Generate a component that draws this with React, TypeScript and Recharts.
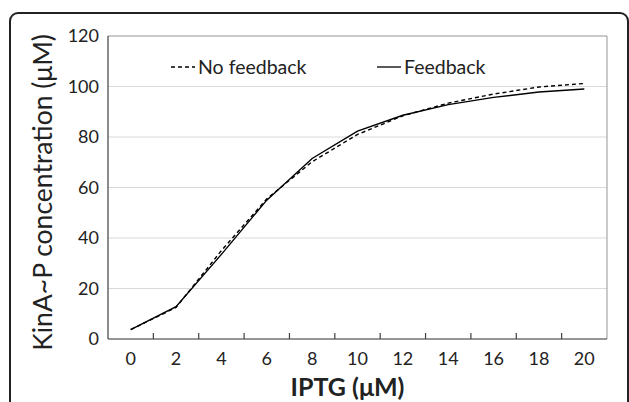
import {
  CartesianGrid,
  Label,
  Legend,
  Line,
  LineChart,
  ReferenceLine,
  XAxis,
  YAxis,
} from "recharts";

const iptg = [0, 2, 4, 6, 8, 10, 12, 14, 16, 18, 20];
const noFeedback = [3.7, 12.5, 35, 55.5, 70.2, 81, 88.4, 93.4, 97, 99.8, 101.2];
const feedback = [3.7, 12.8, 33.5, 55, 71.5, 82.3, 88.6, 92.8, 95.7, 97.8, 99];
const yTicks = [0, 20, 40, 60, 80, 100, 120];
const xDomain = [-1, 21];

const data = iptg.map((x, i) => ({ x, noFeedback: noFeedback[i], feedback: feedback[i] }));

const FONT = "Lato, 'Open Sans', sans-serif";
const tickStyle = { fill: "#222", fontSize: 18, fontFamily: FONT };
const X_TICK_GAP = 13;

function LegendContent() {
  const item = (dash: string | undefined, text: string, width: number) => (
    <div style={{ display: "flex", alignItems: "center", width }}>
      <svg width={26} height={10}>
        <line x1={1} y1={5} x2={25} y2={5} stroke="#000" strokeWidth={1.3} strokeDasharray={dash} />
      </svg>
      <span style={{ marginLeft: 2 }}>{text}</span>
    </div>
  );
  return (
    <div style={{ display: "flex", fontFamily: FONT, fontSize: 19.5, color: "#222" }}>
      {item("4 3", "No feedback", 206)}
      {item(undefined, "Feedback", 120)}
    </div>
  );
}

function YTitle({ viewBox }: any) {
  const cx = viewBox.x - 6;
  const cy = viewBox.y + viewBox.height / 2 + 5;
  return (
    <text
      x={cx}
      y={cy}
      transform={`rotate(-90 ${cx} ${cy})`}
      textAnchor="middle"
      dominantBaseline="central"
      fontFamily={FONT}
      fontSize={26.5}
      fill="#222"
    >
      KinA~P concentration (μM)
    </text>
  );
}

// category label plus an inside tick mark on the boundary to its right
function XTick(props: any) {
  const { x, y, payload, index, width } = props;
  const half = width / (xDomain[1] - xDomain[0]);
  const axisY = y - X_TICK_GAP;
  return (
    <g>
      {index < iptg.length - 1 && (
        <line x1={x + half} x2={x + half} y1={axisY} y2={axisY - 6} stroke="#404040" strokeWidth={1.2} />
      )}
      <text x={x} y={y} dy="0.71em" textAnchor="middle" {...tickStyle}>
        {payload.value}
      </text>
    </g>
  );
}

export default function App() {
  return (
    <div style={{ position: "absolute", left: 0, top: 0, width: 629, height: 402, overflow: "hidden", background: "#fff" }}>
      <div
        style={{
          position: "absolute",
          left: 9,
          top: 12,
          width: 616,
          height: 420,
          border: "2px solid #222",
          borderRadius: 9,
        }}
      />
      <div style={{ position: "absolute", left: 0, top: 0 }}>
        <LineChart width={629} height={402} data={data} margin={{ top: 36, right: 22, bottom: 33, left: 48 }}>
          <CartesianGrid vertical={false} stroke="#d9d9d9" strokeWidth={1.2} />
          <XAxis
            dataKey="x"
            type="number"
            domain={xDomain}
            ticks={iptg}
            height={30}
            tickLine={false}
            tickSize={0}
            tickMargin={X_TICK_GAP}
            axisLine={{ stroke: "#404040", strokeWidth: 1.2 }}
            tick={XTick}
          >
            <Label
              value="IPTG (μM)"
              position="bottom"
              offset={9}
              dx={-10}
              style={{ fontFamily: FONT, fontSize: 25, fontWeight: 700, fill: "#222" }}
            />
          </XAxis>
          <YAxis
            domain={[0, 120]}
            ticks={yTicks}
            width={60}
            tickLine={false}
            tickMargin={3}
            axisLine={{ stroke: "#404040", strokeWidth: 1.2 }}
            tick={tickStyle}
          >
            <Label content={YTitle} />
          </YAxis>
          <ReferenceLine y={120} stroke="#a6a6a6" strokeWidth={1.2} />
          <ReferenceLine x={21} stroke="#a6a6a6" strokeWidth={1.2} />
          <Legend
            content={LegendContent}
            layout="horizontal"
            verticalAlign="middle"
            align="center"
            wrapperStyle={{ position: "absolute", left: 170, top: 55, width: 340 }}
          />
          <Line
            dataKey="noFeedback"
            stroke="#000"
            strokeWidth={1.4}
            strokeDasharray="4 3"
            dot={false}
            isAnimationActive={false}
          />
          <Line dataKey="feedback" stroke="#000" strokeWidth={1.4} dot={false} isAnimationActive={false} />
        </LineChart>
      </div>
    </div>
  );
}
